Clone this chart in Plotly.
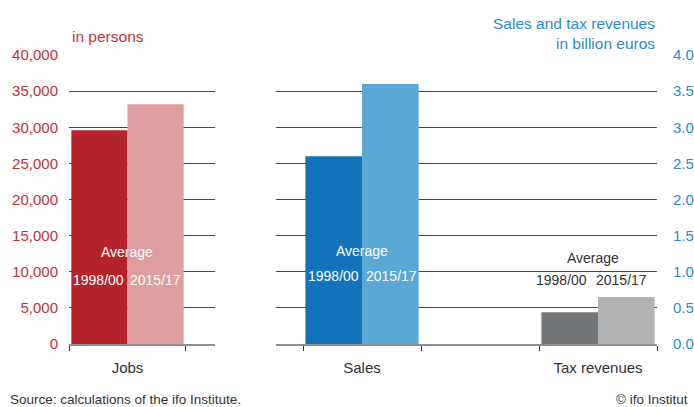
import plotly.graph_objects as go

# ---- data ----
jobs_labels = ["Jobs"]
jobs_values = [29600, 33200]          # 1998/00, 2015/17 (persons)
right_labels = ["Sales", "Tax revenues"]
sales_values = [2.60, 3.60]           # billion euros
tax_values = [0.44, 0.65]             # billion euros
period_labels = ["1998/00", "2015/17"]
left_ticks = list(range(0, 40001, 5000))
right_ticks = [0.0, 0.5, 1.0, 1.5, 2.0, 2.5, 3.0, 3.5, 4.0]

FONT = "Liberation Sans, Arial, sans-serif"
RED = "#c0313b"
BLUE = "#2a8bcc"
GRID = "#474747"

c_jobs = ["#b5232b", "#dd9c9e"]
c_sales = ["#1174bb", "#5aa8d5"]
c_tax = ["#73777a", "#b1b3b4"]

W = 0.48
fig = go.Figure()

# Jobs (left subplot), category at x=0
for i in range(2):
    fig.add_trace(go.Bar(
        x=[0], y=[jobs_values[i]], width=[W], offset=[-W if i == 0 else 0],
        marker=dict(color=c_jobs[i], line=dict(width=0)),
        xaxis="x", yaxis="y", showlegend=False, hoverinfo="y"))

# Sales (x=0) and Tax revenues (x=2) on right subplot
for i in range(2):
    fig.add_trace(go.Bar(
        x=[0], y=[sales_values[i]], width=[W], offset=[-W if i == 0 else 0],
        marker=dict(color=c_sales[i], line=dict(width=0)),
        xaxis="x2", yaxis="y2", showlegend=False, hoverinfo="y"))
    fig.add_trace(go.Bar(
        x=[2], y=[tax_values[i]], width=[W], offset=[-W if i == 0 else 0],
        marker=dict(color=c_tax[i], line=dict(width=0)),
        xaxis="x2", yaxis="y2", showlegend=False, hoverinfo="y"))

L, R, T, B = 69, 37, 55, 63
PW, PH = 694 - L - R, 407 - T - B


def px(xp):
    return (xp - L) / PW


def py(yp):
    return (407 - B - yp) / PH


xcommon = dict(
    showgrid=False, zeroline=False, showline=True, linecolor="#8f8f8f", linewidth=2,
    ticks="", tickfont=dict(family=FONT, size=15, color="#333333"),
    ticklabelstandoff=9, automargin=False,
)
minor_common = dict(tickmode="array", ticks="outside", ticklen=5, tickwidth=1,
                    tickcolor="#333333", showgrid=False)

fig.update_layout(
    width=694, height=407,
    margin=dict(l=L, r=R, t=T, b=B, autoexpand=False),
    paper_bgcolor="white", plot_bgcolor="white",
    font=dict(family=FONT, size=14, color="#333333"),
    barmode="overlay",
    xaxis=dict(domain=[0, px(215)], range=[-0.5, 0.748], anchor="y",
               tickmode="array", tickvals=[0], ticktext=jobs_labels,
               minor=dict(minor_common, tickvals=[-0.5, 0.5]), **xcommon),
    xaxis2=dict(domain=[px(276), 1], range=[-0.729, 2.5], anchor="y2",
                tickmode="array", tickvals=[0, 2], ticktext=right_labels,
                minor=dict(minor_common, tickvals=[-0.5, 0.5, 1.5, 2.5]), **xcommon),
    yaxis=dict(range=[0, 40000], tickmode="array", tickvals=left_ticks,
               tickformat=",", showgrid=True, gridcolor=GRID, gridwidth=1,
               zeroline=False, showline=False, ticks="", automargin=False,
               tickfont=dict(family=FONT, size=15, color=RED),
               ticklabelstandoff=10, anchor="x"),
    yaxis2=dict(range=[0, 4], tickmode="array", tickvals=right_ticks,
                tickformat=".1f", showgrid=True, gridcolor=GRID, gridwidth=1,
                zeroline=False, showline=False, ticks="", side="right", automargin=False,
                tickfont=dict(family=FONT, size=15, color=BLUE),
                ticklabelstandoff=15, anchor="x2"),
)

ann = []
# axis titles
ann.append(dict(text="in persons", xref="paper", yref="paper", x=px(70), y=py(37),
                xanchor="left", yanchor="middle", showarrow=False,
                font=dict(family=FONT, size=15.5, color=RED)))
ann.append(dict(text="Sales and tax revenues", xref="paper", yref="paper", x=px(657), y=py(23),
                xanchor="right", yanchor="middle", showarrow=False,
                font=dict(family=FONT, size=15.5, color=BLUE)))
ann.append(dict(text="in billion euros", xref="paper", yref="paper", x=px(657), y=py(43),
                xanchor="right", yanchor="middle", showarrow=False,
                font=dict(family=FONT, size=15.5, color=BLUE)))

# in-bar labels
white = dict(family=FONT, size=14, color="white")
dark = dict(family=FONT, size=14, color="#333333")
ann += [
    dict(text="Average", xref="x", yref="y", x=0, y=12700, showarrow=False, font=white),
    dict(text=period_labels[0], xref="x", yref="y", x=-0.25, y=8860, showarrow=False, font=white),
    dict(text=period_labels[1], xref="x", yref="y", x=0.24, y=8860, showarrow=False, font=white),
    dict(text="Average", xref="x2", yref="y2", x=0, y=1.29, showarrow=False, font=white),
    dict(text=period_labels[0], xref="x2", yref="y2", x=-0.24, y=0.94, showarrow=False, font=white),
    dict(text=period_labels[1], xref="x2", yref="y2", x=0.25, y=0.94, showarrow=False, font=white),
    dict(text="Average", xref="x2", yref="y2", x=1.96, y=1.19, showarrow=False, font=dark),
    dict(text=period_labels[0], xref="x2", yref="y2", x=1.69, y=0.886, showarrow=False, font=dark),
    dict(text=period_labels[1], xref="x2", yref="y2", x=2.2, y=0.886, showarrow=False, font=dark),
]

# footer
ann.append(dict(text="Source: calculations of the ifo Institute.", xref="paper", yref="paper",
                x=px(8), y=py(399), xanchor="left", yanchor="middle", showarrow=False,
                font=dict(family=FONT, size=13.5, color="#333333")))
ann.append(dict(text="© ifo Institut", xref="paper", yref="paper",
                x=px(690), y=py(399), xanchor="right", yanchor="middle", showarrow=False,
                font=dict(family=FONT, size=13.5, color="#333333")))

fig.update_layout(annotations=ann)
fig.write_html("out.html", config={"displayModeBar": False},
               post_script="document.body.style.margin='0';document.body.style.overflow='hidden';")
